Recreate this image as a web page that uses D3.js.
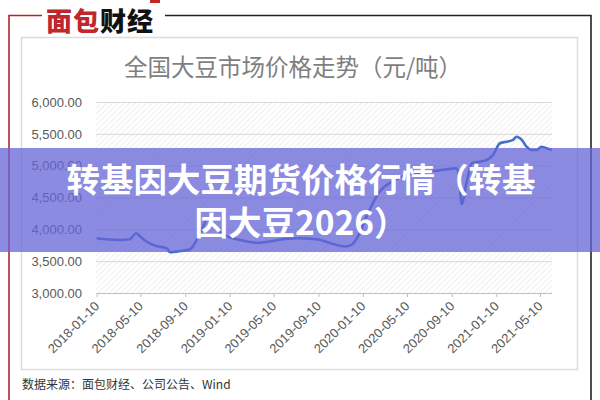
<!DOCTYPE html>
<html><head><meta charset="utf-8">
<script src="https://cdn.jsdelivr.net/npm/d3@7"></script>
<style>
html,body{margin:0;padding:0;background:#fff;}
svg{display:block;}
</style>
</head><body>
<svg id="c" width="600" height="400"></svg>
<script>
const dates = ["2018-01-10","2018-02-10","2018-03-15","2018-04-11","2018-04-28","2018-05-11","2018-05-27","2018-06-24","2018-07-21","2018-07-30","2018-08-15","2018-09-05","2018-09-23","2018-10-11","2018-10-25","2018-11-09","2018-11-25","2018-12-14","2019-01-06","2019-02-07","2019-03-25","2019-04-30","2019-06-10","2019-07-22","2019-08-23","2019-09-19","2019-10-20","2019-11-22","2019-12-11","2020-01-02","2020-01-24","2020-02-26","2020-04-02","2020-05-05","2020-06-15","2020-07-26","2020-09-05","2020-09-22","2020-09-28","2020-10-07","2020-10-21","2020-11-04","2020-11-26","2020-12-15","2021-01-01","2021-01-20","2021-02-08","2021-02-25","2021-03-07","2021-03-21","2021-04-03","2021-04-17","2021-05-01","2021-05-14","2021-05-28","2021-06-11"];
const prices = [3859,3840,3833,3844,3938,3880,3806,3738,3702,3640,3650,3665,3687,3833,3990,4150,4080,3950,3884,3833,3790,3810,3850,3860,3850,3830,3770,3730,3760,3950,4250,4600,4760,4850,4890,4920,4950,4960,4900,4400,4750,5040,5063,5089,5168,5352,5377,5404,5455,5404,5298,5247,5247,5298,5273,5247];
const xTickDates = ["2018-01-10","2018-05-10","2018-09-10","2019-01-10","2019-05-10","2019-09-10","2020-01-10","2020-05-10","2020-09-10","2021-01-10","2021-05-10"];
const yTicks = [3000,3500,4000,4500,5000,5500,6000];
const chartTitle = "全国大豆市场价格走势（元/吨）";
const bannerLines = ["转基因大豆期货价格行情（转基","因大豆2026）"];
const sourceText = "数据来源：面包财经、公司公告、Wind";

const parse = d3.timeParse("%Y-%m-%d");
const data = dates.map((d,i)=>({date:parse(d), v:prices[i]}));
const svg = d3.select("#c");

// outer frame
const red = "#b5242b";
svg.append("path").attr("d","M9,400 V15.5 H42").attr("fill","none").attr("stroke",red).attr("stroke-width",1.6);
svg.append("path").attr("d","M165,15.5 H591 V400").attr("fill","none").attr("stroke","#222").attr("stroke-width",1.6);

// logo
const logo = svg.append("text").attr("x",46).attr("y",31)
  .style("font-family","'Noto Sans CJK SC'").style("font-weight","900").style("font-size","26px").style("letter-spacing","1px");
logo.append("tspan").attr("fill","#c0272d").text("面包");
logo.append("tspan").attr("fill","#111").text("财经");
svg.append("rect").attr("x",150).attr("y",0).attr("width",10).attr("height",3).attr("fill","#c0272d");

// inner box
svg.append("rect").attr("x",21.5).attr("y",37.5).attr("width",556).attr("height",332)
  .attr("fill","#fff").attr("stroke","#dcdcdc").attr("stroke-width",1.5);

// title
svg.append("text").attr("x",293).attr("y",76).attr("text-anchor","middle")
  .style("font-family","'Noto Sans CJK SC'").style("font-size","23.5px").attr("fill","#7f7f7f").text(chartTitle);

// scales
const x = d3.scaleTime().domain([parse("2018-01-10"), parse("2021-06-11")]).range([96.7, 551.7]);
const y = d3.scaleLinear().domain([3000,6000]).range([293,102]);

// hatch pattern
const defs = svg.append("defs");
const pat = defs.append("pattern").attr("id","hatch").attr("patternUnits","userSpaceOnUse")
  .attr("width",4).attr("height",4).attr("patternTransform","rotate(45)");
pat.append("line").attr("x1",0).attr("y1",0).attr("x2",0).attr("y2",4).attr("stroke","#e4e4e4").attr("stroke-width",1.2);
svg.append("rect").attr("x",96).attr("y",y(6000)).attr("width",456).attr("height",y(3000)-y(6000)).attr("fill","url(#hatch)");

// y grid + labels
const yAxis = d3.axisLeft(y).tickValues(yTicks).tickSize(-456).tickPadding(14).tickFormat(d3.format(",.2f"));
const gy = svg.append("g").attr("transform","translate(96,0)").call(yAxis);
gy.select(".domain").remove();
gy.selectAll(".tick line").attr("stroke","#d9d9d9").attr("stroke-width",1);
gy.selectAll(".tick text").attr("fill","#595959").style("font-family","'Liberation Sans',Arial,sans-serif").style("font-size","13px");

// x axis
const xAxis = d3.axisBottom(x).tickValues(xTickDates.map(parse)).tickSize(4).tickFormat(d3.timeFormat("%Y-%m-%d"));
const gx = svg.append("g").attr("transform","translate(0,293)").call(xAxis);
gx.select(".domain").attr("d","M96,0.5H552").attr("stroke","#bfbfbf");
gx.selectAll(".tick line").attr("stroke","#bfbfbf");
gx.selectAll(".tick text").attr("fill","#595959").style("font-family","'Liberation Sans',Arial,sans-serif").style("font-size","13px")
  .attr("text-anchor","end").attr("dy",null).attr("y",0)
  .attr("transform","translate(3,14) rotate(-45)");

// line
const line = d3.line().x(d=>x(d.date)).y(d=>y(d.v)).curve(d3.curveMonotoneX);
svg.append("path").datum(data).attr("d",line).attr("fill","none").attr("stroke","#4670cc").attr("stroke-width",2.6).attr("stroke-linejoin","round");

// source
svg.append("text").attr("x",22).attr("y",389)
  .style("font-family","'Noto Sans CJK SC'").style("font-size","12px").attr("fill","#333").text(sourceText);

// banner
svg.append("rect").attr("x",0).attr("y",148).attr("width",600).attr("height",104).attr("fill","rgba(100,100,215,0.75)");
const bt = svg.append("text").attr("text-anchor","middle")
  .style("font-family","'Noto Sans CJK SC'").style("font-weight","700").style("font-size","33.5px")
  .attr("fill","#fff");
bannerLines.forEach((t,i)=>{
  bt.append("tspan").attr("x",301).attr("y",192+i*42.5).text(t);
});
</script>
</body></html>
